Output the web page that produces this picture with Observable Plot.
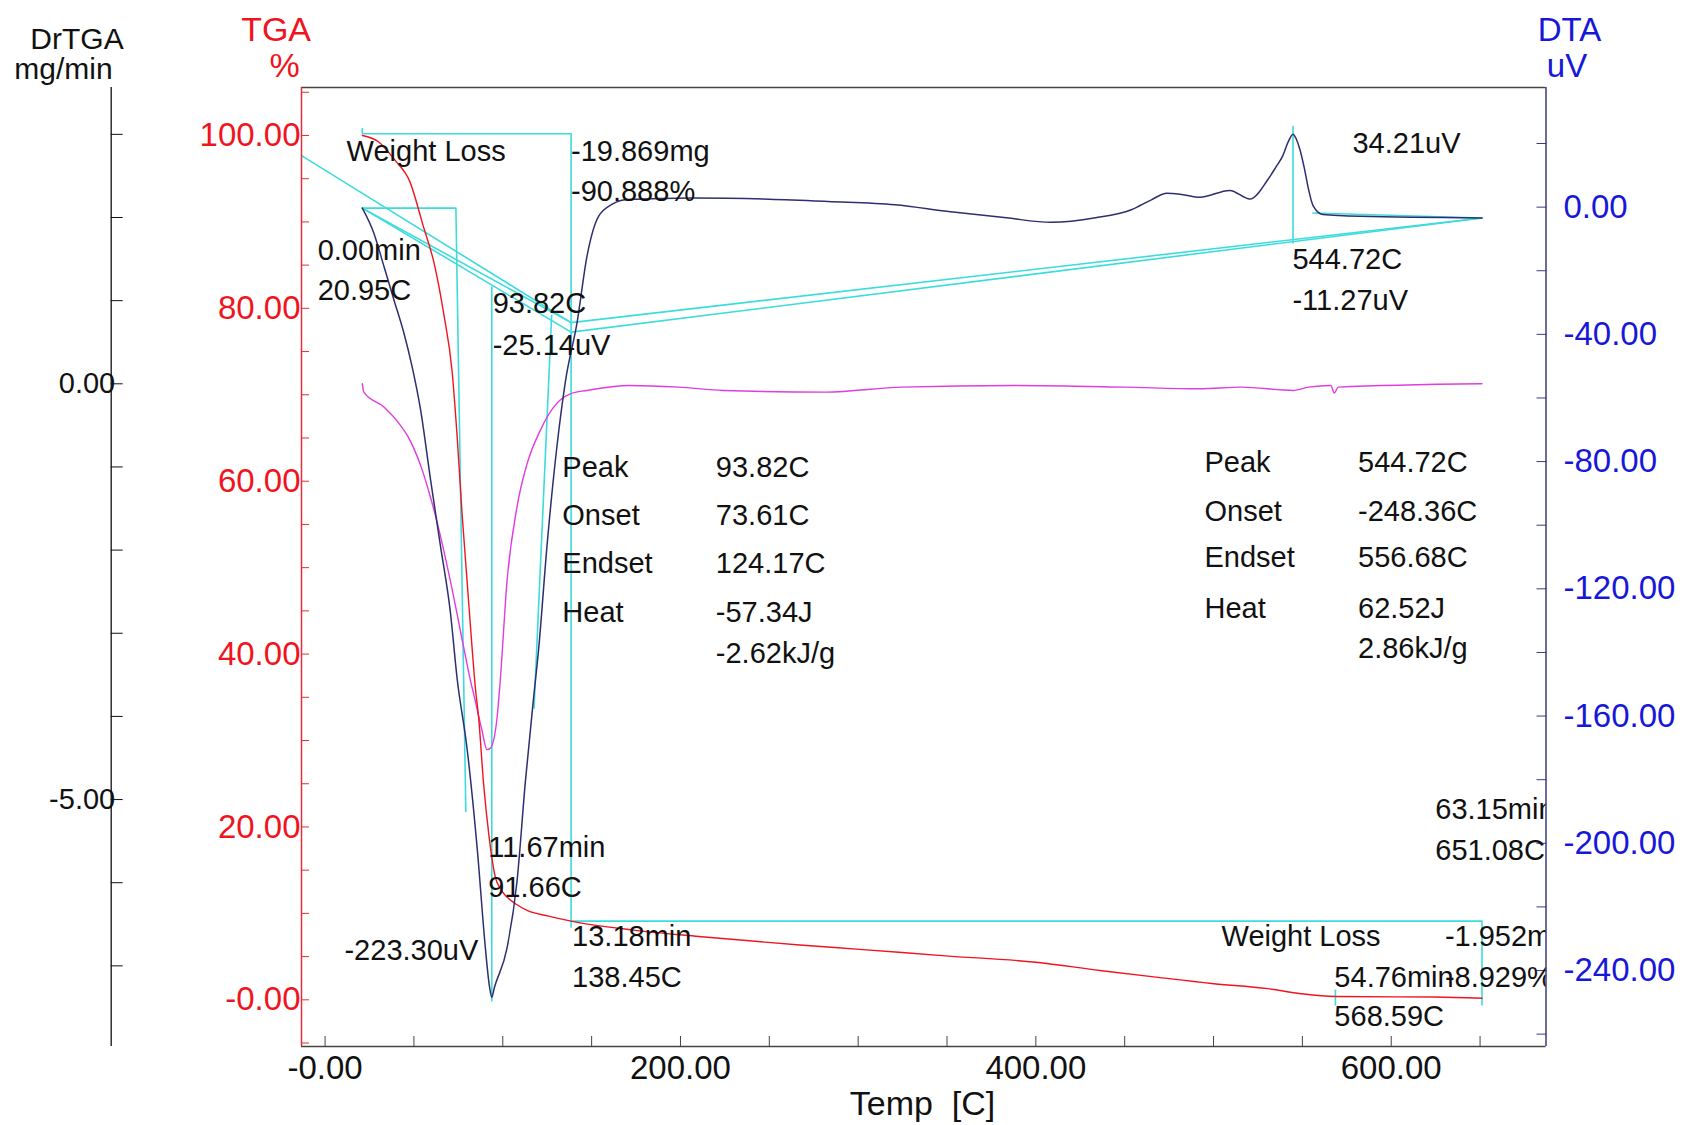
<!DOCTYPE html>
<html><head><meta charset="utf-8">
<script src="https://cdn.jsdelivr.net/npm/d3@7"></script>
<script src="https://cdn.jsdelivr.net/npm/@observablehq/plot@0.6"></script>
<style>html,body{margin:0;padding:0;background:#fff;}</style>
</head><body><div id="chart"></div>
<script>
// ---------------- data ----------------
const tgaTemp = [20.95, 30.2, 39.3, 47.7, 55.0, 61.6, 66.8, 71.5, 74.3, 77.1, 79.9, 82.7, 84.6, 86.4, 89.2, 92.1, 95.8, 98.8, 102.4, 107.6, 113.7, 125.7, 138.45, 173.4, 210.3, 267.1, 300.9, 349.2, 400.0, 436.0, 467.5, 499.0, 530.5, 549.2, 568.59, 624.8, 651.08];
const tgaPct  = [100.0, 99.25, 97.14, 94.66, 89.69, 85.00, 79.32, 72.67, 65.22, 56.20, 48.48, 40.78, 36.02, 32.68, 24.98, 19.20, 14.19, 12.80, 11.88, 11.06, 10.34, 9.69, 9.11, 8.07, 7.33, 6.34, 5.84, 5.09, 4.35, 3.40, 2.63, 1.89, 1.29, 0.71, 0.38, 0.32, 0.18];

const dtaTemp = [20.95, 27.4, 33.1, 38.7, 44.3, 48.9, 53.7, 59.3, 64.9, 70.5, 74.3, 79.9, 85.6, 90.2, 92.5, 93.82, 95.2, 102.4, 108.0, 112.7, 117.3, 120.2, 124.9, 130.5, 135.3, 141.8, 147.4, 153.9, 161.9, 170.0, 207.7, 250.0, 283.0, 320.7, 350.8, 383.4, 408.5, 433.6, 453.7, 465.0, 473.7, 482.0, 492.4, 509.1, 520.5, 530.5, 535.0, 539.0, 542.0, 544.72, 546.5, 548.4, 551.0, 553.5, 556.0, 561.5, 582.8, 651.08];
const dtaUV   = [-0.3, -8.1, -18.6, -29.1, -39.5, -50.0, -63.6, -85.5, -106.4, -127.3, -148.2, -170.2, -201.6, -232.9, -245.0, -248.4, -245.5, -232.9, -212.0, -180.7, -154.5, -138.8, -106.4, -75.1, -54.6, -36.3, -15.4, -2.9, 1.0, 2.36, 2.87, 2.5, 1.79, 0.78, -1.35, -3.37, -4.79, -3.37, -0.81, 2.3, 4.38, 4.0, 3.1, 5.26, 2.53, 8.6, 12.5, 16.2, 20.5, 22.94, 21.5, 18.5, 12.5, 5.5, 0.5, -2.3, -2.9, -3.4];

const drTemp = [20.95, 21.8, 33.1, 42.4, 46.5, 50.0, 54.4, 58.7, 63.0, 70.5, 78.0, 81.8, 83.6, 88.3, 91.1, 93.1, 96.8, 98.5, 102.4, 108.0, 113.7, 121.1, 128.6, 138.0, 147.4, 171.4, 199.0, 224.2, 281.9, 324.5, 387.3, 450.0, 492.2, 515.7, 545.0, 553.5, 566.0, 568.0, 570.2, 651.08];
const drRate = [0.00, -0.10, -0.28, -0.50, -0.63, -0.78, -1.02, -1.32, -1.66, -2.37, -3.17, -3.57, -3.73, -4.17, -4.40, -4.38, -4.01, -3.59, -2.37, -1.48, -0.96, -0.56, -0.28, -0.12, -0.08, -0.02, -0.04, -0.08, -0.10, -0.04, -0.02, -0.04, -0.06, -0.04, -0.08, -0.04, -0.02, -0.11, -0.04, 0.00];

// ticks and tick labels
const xTicks = d3.range(0, 651, 50);
const xLabelValues = [0, 200, 400, 600];
const xLabelTexts = ["-0.00", "200.00", "400.00", "600.00"];
const tgaTicks = d3.range(-5, 106, 5);
const tgaLabelValues = [0, 20, 40, 60, 80, 100];
const tgaLabelTexts = ["-0.00", "20.00", "40.00", "60.00", "80.00", "100.00"];
const dtaTicks = d3.range(-260, 21, 20);
const dtaLabelValues = [0, -40, -80, -120, -160, -200, -240];
const dtaLabelTexts = ["0.00", "-40.00", "-80.00", "-120.00", "-160.00", "-200.00", "-240.00"];
const drTicks = d3.range(-7, 4, 1);
const drLabelValues = [0, -5];
const drLabelTexts = ["0.00", "-5.00"];

// analysis overlays (temperature, value)
const wlStep1 = [[20.95, 100.8], [20.95, 100.2], [138.45, 100.2], [138.45, 8.4]];   // TGA %
const wlStep2 = [[138.45, 9.11], [651.08, 9.11], [651.08, -0.6]];                  // TGA %
const wlMark  = [[568.59, 1.1], [568.59, -0.6]];                                    // TGA %
const dtaLongTangent = [[-13.28, 16.2], [138.45, -36.3]];                           // DTA uV
const dtaBase1 = [[20.95, -0.3], [138.45, -36.3], [651.08, -3.4]];
const dtaBase2 = [[20.95, -0.3], [138.45, -39.3], [651.08, -3.4]];
const dtaOnset1 = [[20.95, -0.3], [73.61, -0.3], [79.2, -190]];
const dtaPeak1 = [[93.82, -25.14], [93.82, -249.6]];
const dtaEndTangent1 = [[117.6, -157.5], [127.5, -34]];
const dtaPeak2 = [[544.72, -11.27], [544.72, 25.3]];
const dtaTail2 = [[555.9, -1.85], [651.08, -3.4]];

// annotation texts: [text, temperature, position on TGA % axis]
const notes = [
  ["Weight Loss", 12.1, 98.1], ["-19.869mg", 138.4, 98.1], ["-90.888%", 138.4, 93.5],
  ["0.00min", -4.2, 86.7], ["20.95C", -4.2, 82.0],
  ["93.82C", 94.3, 80.5], ["-25.14uV", 94.3, 75.7],
  ["Peak", 133.5, 61.6], ["93.82C", 219.9, 61.6],
  ["Onset", 133.5, 56.0], ["73.61C", 219.9, 56.0],
  ["Endset", 133.5, 50.4], ["124.17C", 219.9, 50.4],
  ["Heat", 133.5, 44.8], ["-57.34J", 219.9, 44.8],
  ["-2.62kJ/g", 219.9, 40.1],
  ["34.21uV", 578.2, 99.0], ["544.72C", 544.4, 85.6], ["-11.27uV", 544.4, 80.9],
  ["Peak", 494.9, 62.1], ["544.72C", 581.3, 62.1],
  ["Onset", 494.9, 56.5], ["-248.36C", 581.3, 56.5],
  ["Endset", 494.9, 51.1], ["556.68C", 581.3, 51.1],
  ["Heat", 494.9, 45.3], ["62.52J", 581.3, 45.3],
  ["2.86kJ/g", 581.3, 40.6],
  ["63.15min", 624.8, 22.0], ["651.08C", 624.8, 17.3],
  ["11.67min", 91.8, 17.6], ["91.66C", 91.8, 13.0],
  ["-223.30uV", 10.9, 5.7],
  ["13.18min", 139.0, 7.3], ["138.45C", 139.0, 2.6],
  ["Weight Loss", 504.5, 7.3], ["-1.952mg", 630.2, 7.3],
  ["54.76min", 568.0, 2.6], ["-8.929%", 630.2, 2.6],
  ["568.59C", 568.0, -2.0]
];

// ---------------- layout ----------------
const W = 1685, H = 1125;
const M = {top: 87, right: 139.5, bottom: 79, left: 301};
const X_DOMAIN = [-13.28, 687.1];
const Y_DOMAIN = [-5.40, 105.55];          // TGA %
const dtaToPct = d3.scaleLinear().domain([0, -240]).range([91.71, 3.39]);
const drToPct  = d3.scaleLinear().domain([0, -5]).range([71.27, 23.17]);
const plotW = W - M.left - M.right;
const xAtPx = px => X_DOMAIN[0] + (px - M.left) * (X_DOMAIN[1] - X_DOMAIN[0]) / plotW;

const RED = "#f0141e", NAVY = "#2e2e70", BLUE = "#1717d8", MAGENTA = "#e03ce0", CYAN = "#3cdcdc", INK = "#111";
const FONT = "'Liberation Sans', Arial, sans-serif";

const tga = tgaTemp.map((t, i) => ({t, v: tgaPct[i]}));
const dta = dtaTemp.map((t, i) => ({t, v: dtaUV[i]}));
const dr  = drTemp.map((t, i) => ({t, v: drRate[i]}));

const idY = v => v;
const cyanLine = (pts, toY) => Plot.line(pts, {x: d => d[0], y: d => toY(d[1]), stroke: CYAN, strokeWidth: 1.6, clip: true});
const fmtFrom = (vals, texts, inv) => v => {
  const u = Math.round(inv(v) * 1000) / 1000;
  const k = vals.findIndex(a => Math.abs(a - u) < 1e-6);
  return k >= 0 ? texts[k] : "";
};
const title = (txt, anchor, dx, dy, size, color) =>
  Plot.text([txt], {text: d => d, frameAnchor: anchor, dx, dy, fontSize: size, fill: color, textAnchor: "middle", lineAnchor: "bottom"});

const chart = Plot.plot({
  width: W, height: H,
  marginTop: M.top, marginRight: M.right, marginBottom: M.bottom, marginLeft: M.left,
  x: {domain: X_DOMAIN, axis: null},
  y: {domain: Y_DOMAIN, axis: null},
  style: {fontFamily: FONT, background: "#fff", color: INK},
  marks: [
    // analysis overlays
    cyanLine(dtaLongTangent, dtaToPct),
    cyanLine(dtaBase1, dtaToPct),
    cyanLine(dtaBase2, dtaToPct),
    cyanLine(dtaOnset1, dtaToPct),
    cyanLine(dtaPeak1, dtaToPct),
    cyanLine(dtaEndTangent1, dtaToPct),
    cyanLine(dtaPeak2, dtaToPct),
    cyanLine(dtaTail2, dtaToPct),
    cyanLine(wlStep1, idY),
    cyanLine(wlStep2, idY),
    cyanLine(wlMark, idY),
    // curves
    Plot.line(dr,  {x: "t", y: d => drToPct(d.v),  stroke: MAGENTA, strokeWidth: 1.4, curve: "monotone-x", clip: true}),
    Plot.line(tga, {x: "t", y: "v",                stroke: RED,     strokeWidth: 1.4, curve: "monotone-x", clip: true}),
    Plot.line(dta, {x: "t", y: d => dtaToPct(d.v), stroke: NAVY,    strokeWidth: 1.5, curve: "monotone-x", clip: true}),
    // frame
    Plot.ruleY([Y_DOMAIN[1]], {stroke: "#444", strokeWidth: 1.5}),
    Plot.ruleY([Y_DOMAIN[0]], {stroke: "#444", strokeWidth: 1.5}),
    Plot.ruleX([X_DOMAIN[0]], {stroke: "#e0303a", strokeWidth: 1.5}),
    Plot.ruleX([X_DOMAIN[1]], {stroke: "#3a3a80", strokeWidth: 1.5}),
    Plot.ruleX([xAtPx(110.7)], {stroke: INK, strokeWidth: 1.3}),
    // axes
    Plot.axisX({ticks: xTicks, tickFormat: fmtFrom(xLabelValues, xLabelTexts, v => v), tickSize: -10, tickPadding: 19,
      fontSize: 33, stroke: "#444", fill: INK, label: null}),
    Plot.axisY({anchor: "left", ticks: tgaTicks, tickFormat: fmtFrom(tgaLabelValues, tgaLabelTexts, v => v), tickSize: -8, tickPadding: 9,
      fontSize: 33, stroke: "#e0303a", fill: RED, label: null}),
    Plot.axisY({anchor: "right", ticks: dtaTicks.map(dtaToPct), tickFormat: fmtFrom(dtaLabelValues, dtaLabelTexts, v => Math.round(dtaToPct.invert(v))),
      tickSize: -10, tickPadding: 27.5, fontSize: 33, stroke: "#3a3a80", fill: BLUE, label: null}),
    Plot.axisY({anchor: "left", dx: 110.7 - M.left, ticks: drTicks.map(drToPct), tickFormat: fmtFrom(drLabelValues, drLabelTexts, v => Math.round(drToPct.invert(v))),
      tickSize: -12, tickPadding: 8, fontSize: 29, stroke: INK, fill: INK, label: null}),
    // axis titles
    title("DrTGA", "top-left", 76.5 - M.left, 48 - M.top, 30, INK),
    title("mg/min", "top-left", 63 - M.left, 78 - M.top, 30, INK),
    title("TGA", "top-left", 275.6 - M.left, 40 - M.top, 34, RED),
    title("%", "top-left", 284 - M.left, 76.7 - M.top, 34, RED),
    title("DTA", "top-right", 1569 - (W - M.right), 40 - M.top, 33, BLUE),
    title("uV", "top-right", 1566.5 - (W - M.right), 76.7 - M.top, 33, BLUE),
    title("Temp\u00a0\u00a0[C]", "bottom", 922 - (M.left + plotW / 2), 1114 - (H - M.bottom), 34, INK),
    // annotation texts
    Plot.text(notes, {x: d => d[1], y: d => d[2], text: d => d[0], textAnchor: "start", lineAnchor: "middle",
      fontSize: 29, fill: INK, clip: true})
  ]
});
document.getElementById("chart").appendChild(chart);
</script>
</body></html>
